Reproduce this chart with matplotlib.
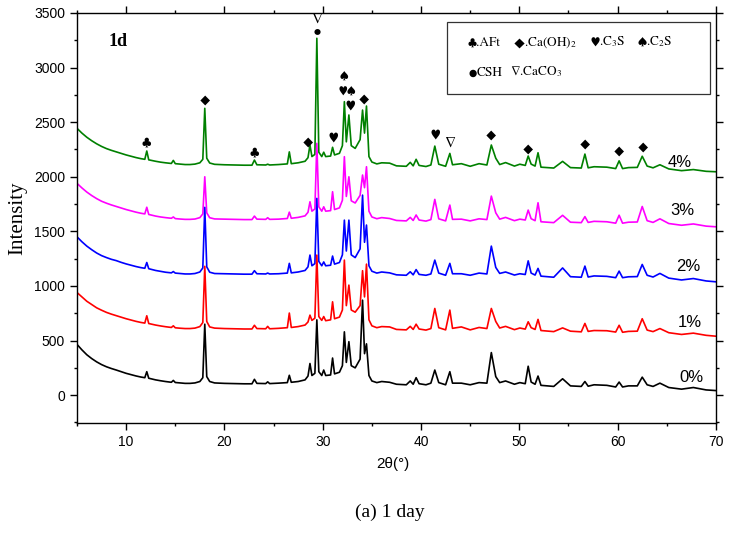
import matplotlib
matplotlib.use("Agg")
import matplotlib.pyplot as plt
from matplotlib.patches import Rectangle
from matplotlib.ticker import MultipleLocator
from matplotlib.offsetbox import TextArea, HPacker, AnchoredOffsetbox

plt.rcParams['mathtext.fontset'] = 'stix'

# 2theta positions shared by all patterns
two_theta = [
    5.0, 5.5, 6.0, 6.5, 7.0, 7.5, 8.0, 8.5, 9.0, 9.5,
    10.0, 10.5, 11.0, 11.5, 11.9, 12.1, 12.3, 13.0, 13.5, 14.0,
    14.6, 14.8, 15.0, 15.5, 16.0, 16.5, 17.0, 17.5, 17.8, 18.0,
    18.2, 18.5, 19.0, 20.0, 21.0, 22.0, 22.8, 23.05, 23.3, 24.2,
    24.4, 24.6, 25.5, 26.4, 26.6, 26.8, 27.5, 28.2, 28.5, 28.7,
    28.9, 29.2, 29.4, 29.6, 29.9, 30.1, 30.3, 30.8, 31.0, 31.2,
    31.7, 32.0, 32.2, 32.4, 32.66, 32.9, 33.3, 33.8, 34.05, 34.25,
    34.45, 34.7, 35.0, 35.5, 36.0, 36.8, 37.5, 38.5, 38.9, 39.2,
    39.5, 39.8, 40.5, 41.0, 41.4, 41.8, 42.5, 42.93, 43.2, 44.1,
    45.0, 45.9, 46.7, 47.15, 47.6, 48.0, 48.6, 49.5, 50.05, 50.6,
    50.9, 51.2, 51.6, 51.9, 52.2, 53.5, 54.4, 55.2, 56.3, 56.67,
    57.0, 57.6, 58.9, 59.8, 60.15, 60.5, 61.1, 62.0, 62.5, 63.0,
    63.6, 64.3, 65.2, 66.5, 67.7, 69.0, 70.0,
]

# intensities (counts) for each dosage, before stacking
i_0 = [
    465, 415, 370, 335, 305, 280, 260, 244, 230, 215,
    200, 188, 176, 166, 160, 215, 155, 140, 132, 125,
    118, 135, 116, 112, 108, 108, 112, 125, 160, 650,
    170, 125, 112, 108, 106, 104, 104, 145, 108, 106,
    122, 106, 110, 115, 182, 118, 125, 140, 175, 290,
    180, 200, 690, 215, 180, 230, 180, 185, 340, 195,
    210, 270, 580, 300, 490, 270, 250, 330, 870, 380,
    470, 180, 130, 115, 125, 118, 100, 95, 130, 100,
    160, 105, 95, 110, 230, 115, 95, 215, 110, 110,
    95, 115, 110, 390, 170, 115, 130, 100, 115, 105,
    265, 120, 100, 175, 90, 80, 150, 85, 80, 125,
    82, 95, 90, 75, 120, 75, 85, 85, 165, 95,
    80, 110, 70, 55, 70, 48, 42,
]
i_1 = [
    440, 400, 360, 330, 300, 278, 258, 242, 228, 214,
    200, 188, 176, 166, 160, 227, 156, 142, 134, 127,
    120, 135, 117, 113, 110, 110, 114, 128, 165, 680,
    175, 125, 114, 110, 108, 106, 106, 140, 110, 108,
    130, 108, 112, 118, 252, 120, 128, 142, 170, 233,
    185, 205, 783, 220, 185, 220, 182, 190, 355, 200,
    215, 280, 737, 320, 508, 280, 260, 320, 640, 400,
    700, 190, 135, 118, 128, 125, 102, 98, 130, 102,
    150, 106, 96, 110, 294, 118, 98, 279, 112, 125,
    98, 120, 110, 294, 175, 115, 130, 100, 115, 105,
    172, 118, 102, 194, 92, 82, 116, 86, 80, 157,
    84, 92, 90, 78, 140, 76, 84, 86, 200, 96,
    82, 110, 72, 56, 68, 48, 40,
]
i_2 = [
    450, 405, 365, 332, 302, 278, 260, 244, 232, 216,
    202, 190, 178, 168, 162, 215, 158, 142, 134, 126,
    120, 132, 118, 114, 110, 110, 114, 128, 165, 720,
    175, 126, 114, 112, 110, 108, 108, 140, 112, 110,
    118, 110, 112, 118, 207, 120, 128, 142, 175, 283,
    185, 205, 802, 225, 185, 220, 185, 190, 274, 200,
    215, 285, 603, 320, 603, 285, 260, 340, 832, 400,
    558, 185, 135, 118, 128, 120, 102, 98, 130, 102,
    150, 106, 98, 110, 237, 118, 98, 207, 112, 112,
    98, 118, 110, 365, 170, 115, 128, 100, 112, 105,
    230, 118, 100, 161, 90, 80, 165, 85, 80, 182,
    82, 92, 88, 76, 136, 76, 84, 86, 197, 98,
    82, 115, 72, 55, 68, 46, 38,
]
i_3 = [
    440, 398, 360, 328, 300, 276, 258, 242, 228, 214,
    200, 188, 176, 166, 160, 221, 155, 140, 132, 126,
    120, 132, 117, 113, 110, 110, 113, 126, 160, 500,
    170, 125, 114, 112, 110, 108, 108, 140, 112, 110,
    125, 110, 112, 118, 176, 120, 128, 142, 175, 271,
    185, 205, 806, 225, 185, 225, 185, 190, 363, 200,
    215, 285, 684, 320, 500, 280, 260, 330, 516, 400,
    592, 185, 132, 116, 126, 118, 100, 96, 128, 100,
    150, 104, 94, 108, 293, 115, 96, 241, 110, 112,
    96, 115, 108, 323, 170, 112, 128, 98, 112, 104,
    195, 116, 98, 262, 88, 80, 147, 84, 80, 135,
    82, 92, 88, 75, 148, 75, 84, 86, 228, 98,
    82, 115, 72, 56, 68, 48, 42,
]
i_4 = [
    444, 400, 362, 330, 302, 278, 258, 242, 228, 214,
    200, 188, 176, 166, 160, 236, 155, 142, 134, 128,
    122, 150, 120, 116, 112, 112, 116, 128, 160, 627,
    170, 126, 114, 110, 108, 106, 106, 153, 110, 108,
    115, 108, 112, 118, 228, 120, 128, 142, 175, 291,
    185, 205, 1268, 225, 185, 225, 185, 190, 270, 200,
    215, 285, 688, 320, 566, 285, 260, 340, 611, 400,
    648, 185, 135, 118, 128, 125, 100, 96, 132, 100,
    160, 104, 94, 108, 281, 115, 96, 214, 110, 120,
    96, 120, 108, 291, 170, 112, 130, 98, 115, 104,
    190, 116, 98, 220, 88, 80, 141, 84, 80, 208,
    82, 92, 88, 75, 146, 75, 84, 86, 188, 98,
    82, 110, 72, 56, 66, 50, 46,
]

labels = ['0%', '1%', '2%', '3%', '4%']
patterns = [i_0, i_1, i_2, i_3, i_4]
colors = ['black', '#ff0000', '#0000ff', '#ff00ff', '#008000']
offset = 500

DIAMOND = '\u25c6'
# phase marks above the 4% pattern: (symbol, 2theta, intensity, size)
marks = [
    ('\u2663', 12.1, 2320, 10), (DIAMOND, 18.0, 2700, 7), ('\u2663', 23.0, 2230, 10),
    (DIAMOND, 28.5, 2320, 7), ('\u2207', 29.4, 3440, 11), ('\u25cf', 29.4, 3335, 6),
    ('\u2665', 31.05, 2365, 10), ('\u2660', 32.2, 2915, 9), ('\u2665', 32.0, 2775, 9),
    ('\u2660', 32.85, 2775, 9), ('\u2665', 32.85, 2655, 10), (DIAMOND, 34.2, 2715, 7),
    ('\u2665', 41.45, 2390, 10), ('\u2207', 42.95, 2310, 11), (DIAMOND, 47.1, 2380, 7),
    (DIAMOND, 50.9, 2255, 7), (DIAMOND, 56.7, 2300, 7), (DIAMOND, 60.1, 2235, 7),
    (DIAMOND, 62.6, 2270, 7),
]

fig = plt.figure(figsize=(7.29, 5.39), dpi=100)
ax = fig.add_axes([0.1056, 0.2152, 0.8765, 0.7607])

# draw from the top pattern down so the lower ones sit in front
for k in range(4, -1, -1):
    y = [v + k * offset for v in patterns[k]]
    ax.plot(two_theta, y, color=colors[k], lw=1.2)

label_pos = [(67.5, 160), (67.3, 665), (67.2, 1175), (66.6, 1690), (66.3, 2135)]
for lab, (x, y) in zip(labels, label_pos):
    ax.text(x, y, lab, fontsize=12, family='Liberation Sans', ha='center', va='center')

for sym, x, y, sz in marks:
    ax.text(x, y, sym, fontsize=sz, family=['STIXGeneral', 'DejaVu Sans'],
            ha='center', va='center')

ax.text(0.05, 0.93, '1d', transform=ax.transAxes, fontsize=13, fontweight='bold',
        family='Liberation Serif', va='center')


# phase key
def key_text(s, size=9.5, family='STIXGeneral'):
    return TextArea(s, textprops=dict(fontsize=size, family=family))


row1 = HPacker(children=[
    key_text('\u2663.AFt'),
    HPacker(children=[key_text(DIAMOND, 7.5), key_text('.Ca(OH)$_2$')],
            sep=0, pad=0, align='baseline'),
    key_text('\u2665.C$_3$S'),
    key_text('\u2660.C$_2$S'),
], sep=9, pad=0, align='baseline')
row2 = HPacker(children=[
    HPacker(children=[key_text('\u25cf', 7), key_text('CSH')], sep=0, pad=0,
            align='baseline'),
    key_text('\u2207.CaCO$_3$'),
], sep=6, pad=0, align='baseline')

for row, yk in [(row1, 0.929), (row2, 0.856)]:
    ax.add_artist(AnchoredOffsetbox(loc='center left', child=row, pad=0, borderpad=0,
                                    frameon=False, bbox_to_anchor=(0.612, yk),
                                    bbox_transform=ax.transAxes))
ax.add_patch(Rectangle((0.579, 0.802), 0.4116, 0.176, transform=ax.transAxes,
                       fill=False, lw=0.9, edgecolor='#333333'))

ax.set_xlim(5, 70)
ax.set_ylim(-255, 3500)
ax.xaxis.set_major_locator(MultipleLocator(10))
ax.xaxis.set_minor_locator(MultipleLocator(5))
ax.yaxis.set_major_locator(MultipleLocator(500))
ax.yaxis.set_minor_locator(MultipleLocator(250))
ax.tick_params(which='both', direction='out', top=True, right=True, width=1.0)
ax.tick_params(which='major', length=5, labelsize=10)
ax.tick_params(which='minor', length=2.5)
for lab in ax.get_xticklabels() + ax.get_yticklabels():
    lab.set_family('Liberation Sans')
for s in ax.spines.values():
    s.set_linewidth(1.0)

ax.set_ylabel('Intensity', family='Liberation Serif', fontsize=15)
ax.yaxis.set_label_coords(-0.078, 0.5)
ax.set_xlabel('2\u03b8(\u00b0)', family='Liberation Sans', fontsize=11)
ax.xaxis.set_label_coords(0.494, -0.083)

fig.text(0.535, 0.05, '(a) 1 day', family='Liberation Serif', fontsize=14,
         ha='center', va='center')

fig.savefig('out.png', dpi=100)
